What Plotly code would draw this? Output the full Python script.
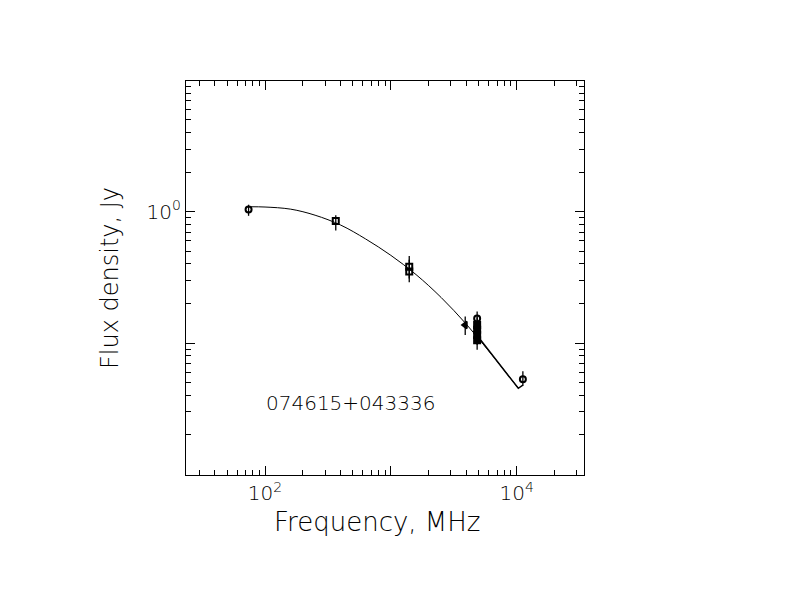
import plotly.graph_objects as go

# measured points (MHz, Jy)
freq = [74, 365, 1400, 1400, 3900, 4850, 4850, 4850, 4850, 4850, 11200]
flux = [1.04, 0.85, 0.38, 0.35, 0.137, 0.154, 0.137, 0.126, 0.115, 0.105, 0.053]
err_up = [0.09, 0.09, 0.08, 0.08, 0.022, 0.02, 0.02, 0.02, 0.018, 0.016, 0.008]
err_dn = [0.11, 0.13, 0.07, 0.06, 0.022, 0.02, 0.02, 0.02, 0.018, 0.016, 0.006]
symbols = ['circle-open', 'square-open', 'square-open', 'square-open', 'triangle-left',
           'circle-open', 'square', 'square', 'square', 'square', 'circle-open']

# fitted spectrum
fit_freq = [77, 100, 160, 250, 400, 630, 1000, 1585, 2512, 3981, 6310, 10300]
fit_flux = [1.09, 1.085, 1.045, 0.94, 0.79, 0.62, 0.465, 0.332, 0.222, 0.139, 0.082, 0.0452]
# second (overlapping) segment at the high-frequency end
seg_freq = [4850, 10300, 11200]
seg_flux = [0.114, 0.0452, 0.0477]

name = '074615+043336'

x_major = [100, 1000, 10000]
x_text = ['10<sup>2</sup>', '', '10<sup>4</sup>']
x_minor = [30, 40, 50, 60, 70, 80, 90, 200, 300, 400, 500, 600, 700, 800, 900,
           2000, 3000, 4000, 5000, 6000, 7000, 8000, 9000, 20000, 30000]
y_major = [0.01, 0.1, 1, 10]
y_text = ['', '', '10<sup>0</sup>', '']
y_minor = [0.02, 0.03, 0.04, 0.05, 0.06, 0.07, 0.08, 0.09,
           0.2, 0.3, 0.4, 0.5, 0.6, 0.7, 0.8, 0.9,
           2, 3, 4, 5, 6, 7, 8, 9]

fnt = dict(family='DejaVu Sans', color='black', weight=200)

fig = go.Figure()

fig.add_trace(go.Scatter(x=fit_freq, y=fit_flux, mode='lines', line_shape='spline',
                         line=dict(color='black', width=1), showlegend=False))
fig.add_trace(go.Scatter(x=seg_freq, y=seg_flux, mode='lines',
                         line=dict(color='black', width=1.5), showlegend=False))

fig.add_trace(go.Scatter(
    x=freq, y=flux, mode='markers',
    marker=dict(symbol=symbols, size=6, color='black',
                line=dict(color='black', width=2)),
    error_y=dict(type='data', symmetric=False, array=err_up, arrayminus=err_dn,
                 color='black', thickness=1.3, width=0),
    showlegend=False))

axis_common = dict(
    type='log', showline=True, linecolor='black', linewidth=1.2,
    mirror='allticks', ticks='inside', ticklen=9, tickwidth=1, tickcolor='black',
    showgrid=False, zeroline=False, tickfont=dict(size=20, **fnt),
)

# page body has an 8px margin, so the margins are shifted to keep the frame in place
fig.update_layout(
    width=792, height=612,
    margin=dict(l=178, r=216, t=73, b=145),
    paper_bgcolor='white', plot_bgcolor='white',
    xaxis=dict(range=[1.372, 4.535], tickmode='array', tickvals=x_major, ticktext=x_text,
               minor=dict(tickmode='array', tickvals=x_minor, ticks='inside', ticklen=5,
                          tickcolor='black', tickwidth=1, showgrid=False),
               **axis_common),
    yaxis=dict(range=[-2.005, 0.995], tickmode='array', tickvals=y_major, ticktext=y_text,
               minor=dict(tickmode='array', tickvals=y_minor, ticks='inside', ticklen=5,
                          tickcolor='black', tickwidth=1, showgrid=False),
               **axis_common),
    annotations=[
        dict(text='Frequency, MHz', xref='paper', yref='paper', x=0.479, y=-0.119,
             xanchor='center', yanchor='middle', showarrow=False, font=dict(size=26, **fnt)),
        dict(text='Flux density, Jy', xref='paper', yref='paper', x=-0.191, y=0.5,
             xanchor='center', yanchor='middle', textangle=-90, showarrow=False,
             font=dict(size=24, **fnt)),
        dict(text=name, xref='paper', yref='paper', x=0.413, y=0.183,
             xanchor='center', yanchor='middle', showarrow=False, font=dict(size=20, **fnt)),
    ],
)

fig.write_html('out.html')
